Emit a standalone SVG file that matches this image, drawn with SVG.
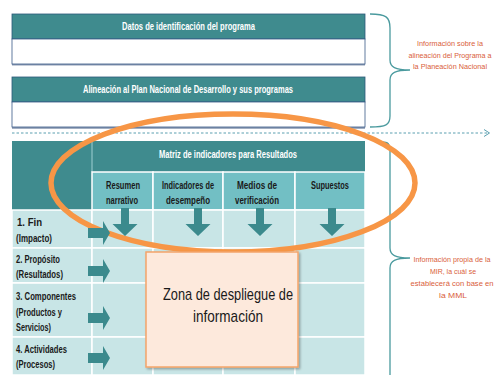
<svg xmlns="http://www.w3.org/2000/svg" width="500" height="375" viewBox="0 0 500 375">
<style>
.hdr{fill:#3f8b8e}
.sub{fill:#72bfc4;stroke:#ffffff;stroke-width:1.5}
.cell{fill:#c8e5e6;stroke:#ffffff;stroke-width:1.5}
.wt{font-family:"Liberation Sans",Arial,sans-serif;font-weight:bold;font-size:10px;fill:#ffffff;text-anchor:middle}
.bk{font-family:"Liberation Sans",Arial,sans-serif;font-weight:bold;font-size:10px;fill:#1a1a1a}
.bkc{font-family:"Liberation Sans",Arial,sans-serif;font-weight:bold;font-size:10px;fill:#1a1a1a;text-anchor:middle}
.rd{font-family:"Liberation Sans",Arial,sans-serif;font-size:8px;fill:#d9603b;text-anchor:middle}
.arr{fill:#3b8a8d}
.brace{fill:none;stroke:#4a9a9e;stroke-width:1.3}
</style>
<defs>
<filter id="sh" x="-10%" y="-10%" width="130%" height="130%">
<feDropShadow dx="1.5" dy="1.5" stdDeviation="1" flood-color="#000" flood-opacity="0.3"/>
</filter>
</defs>

<g id="box-datos">
<rect x="12" y="64" width="353" height="1.5" fill="#8d9cb4"/>
<rect x="12" y="14" width="353" height="25" class="hdr" stroke="#2e5a7a" stroke-width="0.8"/>
<rect x="12" y="39" width="353" height="25" fill="#ffffff" stroke="#3a5a88" stroke-width="0.8"/>
<text class="wt" x="188.5" y="30" textLength="133" lengthAdjust="spacingAndGlyphs">Datos de identificación del programa</text>
</g>

<g id="box-alineacion">
<rect x="12" y="127" width="353" height="1.8" fill="#8d9cb4"/>
<rect x="12" y="77" width="353" height="25" class="hdr" stroke="#2e5a7a" stroke-width="0.8"/>
<rect x="12" y="102" width="353" height="25" fill="#ffffff" stroke="#3a5a88" stroke-width="0.8"/>
<text class="wt" x="188" y="93" textLength="210" lengthAdjust="spacingAndGlyphs">Alineación al Plan Nacional de Desarrollo  y  sus programas</text>
</g>

<g id="connectors">
<line x1="12" y1="133" x2="489" y2="133" stroke="#5a9fb0" stroke-width="1" stroke-dasharray="2.5,2"/>
<polyline points="484,129.5 489.5,133 484,136.5" fill="none" stroke="#5a9fb0" stroke-width="1"/>
<path class="brace" d="M370,14 C386,14 390,17 390,28 L390,60 C390,67 395,70 410,70 C395,70 390,73 390,80 L390,116 C390,125 386,127 370,127"/>
<path class="brace" d="M382,142 C388,142 390,144 390,150 L390,248 C390,255 395,258 410,258 C395,258 390,261 390,268 L390,375"/>
</g>

<g id="texto-planeacion">
<text class="rd" x="450" y="46" textLength="66" lengthAdjust="spacingAndGlyphs">Información sobre la</text>
<text class="rd" x="450" y="57.5" textLength="83" lengthAdjust="spacingAndGlyphs">alineación del Programa a</text>
<text class="rd" x="450" y="69" textLength="74" lengthAdjust="spacingAndGlyphs">la Planeación Nacional</text>
</g>

<g id="texto-mir">
<text class="rd" x="452" y="262" textLength="77" lengthAdjust="spacingAndGlyphs">Información propia de la</text>
<text class="rd" x="453" y="274" textLength="46" lengthAdjust="spacingAndGlyphs">MIR, la cuál se</text>
<text class="rd" x="452" y="286" textLength="83" lengthAdjust="spacingAndGlyphs">establecerá con base en</text>
<text class="rd" x="453" y="298" textLength="28" lengthAdjust="spacingAndGlyphs">la MML</text>
</g>

<g id="tabla-mir">
<rect x="12" y="141" width="80" height="69" class="hdr"/>
<rect x="92" y="141" width="273" height="31" class="hdr"/>
<line x1="92" y1="141" x2="92" y2="172" stroke="#9fcfd2" stroke-width="1"/>
<text class="wt" x="228" y="158" textLength="138" lengthAdjust="spacingAndGlyphs">Matriz de indicadores para Resultados</text>
<rect x="92" y="172" width="61" height="38" class="sub"/>
<rect x="153" y="172" width="70" height="38" class="sub"/>
<rect x="223" y="172" width="72" height="38" class="sub"/>
<rect x="295" y="172" width="70" height="38" class="sub"/>
<text class="bkc" x="123" y="189" textLength="34" lengthAdjust="spacingAndGlyphs">Resumen</text>
<text class="bkc" x="122" y="204" textLength="32" lengthAdjust="spacingAndGlyphs">narrativo</text>
<text class="bkc" x="188" y="189" textLength="52" lengthAdjust="spacingAndGlyphs">Indicadores de</text>
<text class="bkc" x="188" y="204" textLength="44" lengthAdjust="spacingAndGlyphs">desempeño</text>
<text class="bkc" x="257" y="189" textLength="40" lengthAdjust="spacingAndGlyphs">Medios de</text>
<text class="bkc" x="257" y="204" textLength="44" lengthAdjust="spacingAndGlyphs">verificación</text>
<text class="bkc" x="330" y="189" textLength="38" lengthAdjust="spacingAndGlyphs">Supuestos</text>

<rect x="12" y="210" width="80" height="38" class="cell"/>
<rect x="92" y="210" width="61" height="38" class="cell"/>
<rect x="153" y="210" width="70" height="38" class="cell"/>
<rect x="223" y="210" width="72" height="38" class="cell"/>
<rect x="295" y="210" width="70" height="38" class="cell"/>
<rect x="12" y="248" width="80" height="35" class="cell"/>
<rect x="92" y="248" width="61" height="35" class="cell"/>
<rect x="153" y="248" width="70" height="35" class="cell"/>
<rect x="223" y="248" width="72" height="35" class="cell"/>
<rect x="295" y="248" width="70" height="35" class="cell"/>
<rect x="12" y="283" width="80" height="54" class="cell"/>
<rect x="92" y="283" width="61" height="54" class="cell"/>
<rect x="153" y="283" width="70" height="54" class="cell"/>
<rect x="223" y="283" width="72" height="54" class="cell"/>
<rect x="295" y="283" width="70" height="54" class="cell"/>
<rect x="12" y="337" width="80" height="38" class="cell"/>
<rect x="92" y="337" width="61" height="38" class="cell"/>
<rect x="153" y="337" width="70" height="38" class="cell"/>
<rect x="223" y="337" width="72" height="38" class="cell"/>
<rect x="295" y="337" width="70" height="38" class="cell"/>

<text class="bk" x="17" y="226" textLength="25" lengthAdjust="spacingAndGlyphs">1.   Fin</text>
<text class="bk" x="16" y="242" textLength="36" lengthAdjust="spacingAndGlyphs">(Impacto)</text>
<text class="bk" x="16" y="263" textLength="44" lengthAdjust="spacingAndGlyphs">2. Propósito</text>
<text class="bk" x="16" y="278" textLength="47" lengthAdjust="spacingAndGlyphs">(Resultados)</text>
<text class="bk" x="16" y="300" textLength="60" lengthAdjust="spacingAndGlyphs">3. Componentes</text>
<text class="bk" x="16" y="316" textLength="46" lengthAdjust="spacingAndGlyphs">(Productos y</text>
<text class="bk" x="16" y="331" textLength="35" lengthAdjust="spacingAndGlyphs">Servicios)</text>
<text class="bk" x="16" y="353" textLength="51" lengthAdjust="spacingAndGlyphs">4. Actividades</text>
<text class="bk" x="16" y="368" textLength="39" lengthAdjust="spacingAndGlyphs">(Procesos)</text>
</g>

<g id="elipse">
<ellipse cx="233" cy="183" rx="182" ry="69" fill="none" stroke="#f79646" stroke-width="5.5"/>
</g>

<g id="flechas">
<path class="arr" d="M121,208 h8 v16 h8.5 l-12.5,12 l-12.5,-12 h8.5 z"/>
<path class="arr" d="M194,208 h8 v16 h8.5 l-12.5,12 l-12.5,-12 h8.5 z"/>
<path class="arr" d="M256,208 h8 v16 h8.5 l-12.5,12 l-12.5,-12 h8.5 z"/>
<path class="arr" d="M328,208 h8 v16 h8.5 l-12.5,12 l-12.5,-12 h8.5 z"/>
<path class="arr" d="M88,228 h15 v-7 l7,12 l-7,12 v-7 h-15 z"/>
<path class="arr" d="M88,266 h15 v-7 l7,12 l-7,12 v-7 h-15 z"/>
<path class="arr" d="M88,313 h15 v-7 l7,12 l-7,12 v-7 h-15 z"/>
<path class="arr" d="M88,353 h15 v-7 l7,12 l-7,12 v-7 h-15 z"/>
</g>

<g id="zona">
<rect x="146" y="252" width="152" height="115" fill="#fde9dc" stroke="#f4a46a" stroke-width="1.5" filter="url(#sh)"/>
<text x="228" y="300" font-family="'Liberation Sans',Arial,sans-serif" font-size="17" fill="#1a1a1a" text-anchor="middle" textLength="130" lengthAdjust="spacingAndGlyphs">Zona de despliegue de</text>
<text x="228" y="322" font-family="'Liberation Sans',Arial,sans-serif" font-size="17" fill="#1a1a1a" text-anchor="middle" textLength="70" lengthAdjust="spacingAndGlyphs">información</text>
</g>
</svg>
